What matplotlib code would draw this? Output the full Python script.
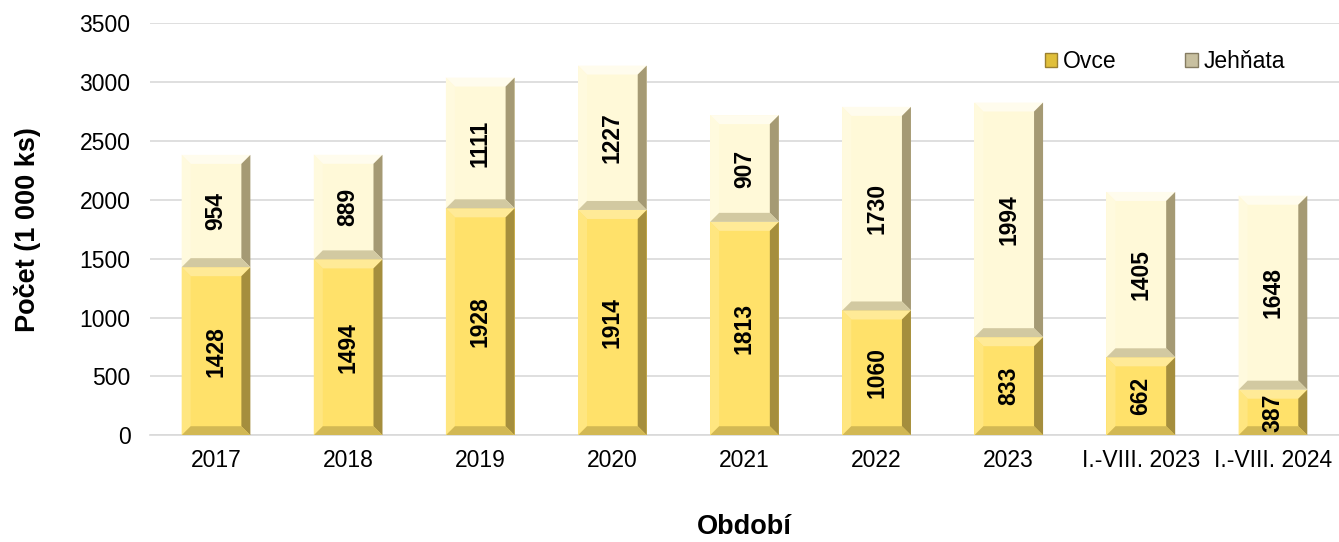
import numpy as np
import matplotlib.pyplot as plt
from matplotlib.patches import Polygon, Patch
from matplotlib.transforms import IdentityTransform
from matplotlib.colors import to_rgb

plt.rcParams['font.family'] = ['Liberation Sans', 'DejaVu Sans']

obdobi = ['2017', '2018', '2019', '2020', '2021', '2022', '2023',
          'I.-VIII. 2023', 'I.-VIII. 2024']
ovce = [1428, 1494, 1928, 1914, 1813, 1060, 833, 662, 387]
jehnata = [954, 889, 1111, 1227, 907, 1730, 1994, 1405, 1648]

col_ovce = '#FFE16A'
col_jeh = '#FFF9D8'


def mix(c, other, t):
    c = np.array(to_rgb(c))
    o = np.array(to_rgb(other))
    return tuple(c * (1 - t) + o * t)


fig, ax = plt.subplots(figsize=(13.39, 5.42), dpi=100)
fig.subplots_adjust(left=0.112, right=1.0, top=0.957, bottom=0.197)

x = np.arange(len(obdobi))
b1 = ax.bar(x, ovce, width=0.52, color=col_ovce, zorder=3, label='Ovce')
b2 = ax.bar(x, jehnata, width=0.52, bottom=ovce, color=col_jeh, zorder=3,
            label='Jehňata')

ax.set_ylim(0, 3500)
ax.set_xlim(-0.5, len(obdobi) - 0.5)
ax.set_yticks(range(0, 3501, 500))
ax.set_xticks(x)
ax.set_xticklabels(obdobi)
ax.tick_params(axis='both', labelsize=16.5, length=0)
ax.tick_params(axis='x', pad=10)
ax.tick_params(axis='y', pad=14)
ax.grid(axis='y', color='#D9D9D9', linewidth=1.2, zorder=0)
for s in ['top', 'right', 'left']:
    ax.spines[s].set_visible(False)
ax.spines['bottom'].set_color('#D9D9D9')
ax.spines['bottom'].set_linewidth(1.2)

ax.set_ylabel('Počet (1 000 ks)', fontsize=19.5, fontweight='bold', labelpad=28)
ax.set_xlabel('Období', fontsize=19.5, fontweight='bold', labelpad=30)

# bevel effect drawn around each bar segment in pixel space
fig.canvas.draw()
bev = 9
for bars, base, top_mix in [(b1, col_ovce, 0.3), (b2, col_jeh, 0.55)]:
    for r in bars:
        (x0, y0), (x1, y1) = r.get_window_extent().get_points()
        b = min(bev, (y1 - y0) / 2.5)
        faces = [
            ([(x0, y1), (x1, y1), (x1 - b, y1 - b), (x0 + b, y1 - b)], mix(base, 'white', top_mix)),
            ([(x0, y0), (x0, y1), (x0 + b, y1 - b), (x0 + b, y0 + b)], mix(base, '#FFFFFF', 0.15)),
            ([(x1, y0), (x1, y1), (x1 - b, y1 - b), (x1 - b, y0 + b)], mix(base, '#4A3A10', 0.5)),
            ([(x0, y0), (x1, y0), (x1 - b, y0 + b), (x0 + b, y0 + b)], mix(base, '#6A5A20', 0.3)),
        ]
        for pts, c in faces:
            ax.add_patch(Polygon(pts, closed=True, facecolor=c, edgecolor='none',
                                 transform=IdentityTransform(), zorder=4))

for i in range(len(obdobi)):
    ax.text(x[i], ovce[i] / 2, str(ovce[i]), rotation=90, ha='center', va='center',
            fontsize=16.5, fontweight='bold', zorder=5)
    ax.text(x[i], ovce[i] + jehnata[i] / 2, str(jehnata[i]), rotation=90,
            ha='center', va='center', fontsize=16.5, fontweight='bold', zorder=5)

handles = [Patch(facecolor='#E0BF3A', edgecolor='#9A8030', label='Ovce'),
           Patch(facecolor='#C8C0A0', edgecolor='#857C62', label='Jehňata')]
ax.legend(handles=handles, loc='upper right', bbox_to_anchor=(0.972, 0.985), ncol=2,
          frameon=False, fontsize=16.5, handlelength=0.55, handleheight=0.55,
          handletextpad=0.25, columnspacing=3.0)

fig.savefig('out.png', dpi=100)
